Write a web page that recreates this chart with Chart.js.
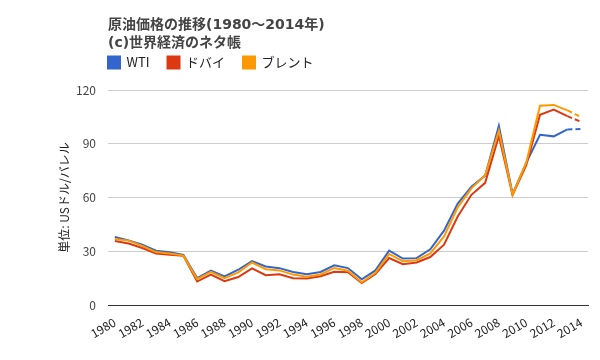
<!DOCTYPE html>
<html>
<head>
<meta charset="utf-8">
<script src="https://cdn.jsdelivr.net/npm/chart.js@4"></script>
<style>
  body { margin: 0; background: #fff; }
  #wrap { width: 600px; height: 360px; }
</style>
</head>
<body>
<div id="wrap"><canvas id="myChart" width="600" height="360"></canvas></div>
<script>
// 年 (1980-2014)
const years = ["1980","1981","1982","1983","1984","1985","1986","1987","1988","1989",
  "1990","1991","1992","1993","1994","1995","1996","1997","1998","1999",
  "2000","2001","2002","2003","2004","2005","2006","2007","2008","2009",
  "2010","2011","2012","2013","2014"];

// 米ドル/バレル
const wti = [37.96, 36.08, 33.65, 30.30, 29.39, 27.99, 15.04, 19.19, 15.97, 19.68,
  24.50, 21.54, 20.57, 18.45, 17.21, 18.42, 22.16, 20.61, 14.39, 19.31,
  30.37, 25.93, 26.16, 31.07, 41.49, 56.59, 66.02, 72.20, 100.06, 61.92,
  79.45, 95.04, 94.13, 97.99, 98.2];
const dubai = [35.69, 34.32, 31.80, 28.78, 28.06, 27.53, 13.10, 16.95, 13.27, 15.62,
  20.45, 16.63, 17.17, 14.93, 14.74, 16.10, 18.52, 18.23, 12.21, 17.25,
  26.20, 22.81, 23.74, 26.78, 33.64, 49.35, 61.50, 68.19, 94.34, 61.39,
  78.06, 106.18, 109.08, 105.43, 102.2];
const brent = [36.83, 35.93, 32.97, 29.55, 28.78, 27.56, 14.43, 18.44, 14.92, 18.23,
  23.73, 20.00, 19.32, 16.97, 15.82, 17.02, 20.67, 19.09, 12.72, 17.97,
  28.50, 24.44, 25.02, 28.83, 38.27, 54.52, 65.14, 72.39, 97.26, 61.67,
  79.50, 111.26, 111.67, 108.66, 104.9];

const yTicks = [0, 30, 60, 90, 120];

const FONT = '"Noto Sans CJK JP", "Noto Sans", sans-serif';
Chart.defaults.font.family = FONT;

// 最後の区間(見込み)は点線
const lastDash = {
  borderDash: (c) => c.p1DataIndex === years.length - 1 ? [5, 3] : undefined
};

function makeSet(label, data, color, order) {
  return {
    label: label,
    data: data,
    borderColor: color,
    backgroundColor: color,
    borderWidth: 2,
    pointRadius: 0,
    pointHoverRadius: 0,
    tension: 0,
    order: order,
    segment: lastDash
  };
}

// タイトル・凡例をグラフ領域の左端に揃える
const alignPlugin = {
  id: 'alignLeft',
  beforeInit(chart) {
    const fit = chart.legend.fit;
    chart.legend.fit = function () {
      fit.call(this);
      this.height = 38;
    };
  },
  beforeDraw(chart) {
    const left = chart.chartArea.left;
    chart.titleBlock.left = left;
    chart.legend.left = left - 18;
    chart.legend.top = 52 - 18 + 4;
  }
};

const ctx = document.getElementById("myChart");

new Chart(ctx, {
  type: "line",
  data: {
    labels: years,
    datasets: [
      makeSet("WTI", wti, "#3366cc", 3),
      makeSet("ドバイ", dubai, "#dc3912", 2),
      makeSet("ブレント", brent, "#ff9900", 1)
    ]
  },
  plugins: [alignPlugin],
  options: {
    responsive: false,
    animation: false,
    layout: { padding: { left: 0, right: 12, top: 0, bottom: 0 } },
    plugins: {
      title: {
        display: true,
        text: ["原油価格の推移(1980～2014年)", "(c)世界経済のネタ帳"],
        align: "start",
        color: "#444",
        font: { family: '"DejaVu Sans", "Noto Sans CJK JP", sans-serif', size: 14, weight: "bold", lineHeight: 1.25 },
        padding: { top: 17, bottom: 0 }
      },
      legend: {
        align: "start",
        labels: {
          boxWidth: 12,
          boxHeight: 12,
          padding: 18,
          color: "#222",
          font: { size: 13 },
          sort: (a, b) => a.datasetIndex - b.datasetIndex
        }
      },
      tooltip: { enabled: false }
    },
    scales: {
      x: {
        offset: true,
        grid: { display: false },
        border: { display: true, color: "#333", width: 1 },
        ticks: {
          autoSkip: false,
          minRotation: 30,
          maxRotation: 30,
          color: "#222",
          font: { size: 12 },
          padding: 2,
          callback: function (v, i) { return i % 2 === 0 ? years[i] : ""; }
        },
        afterFit: (s) => { s.height = 55; }
      },
      y: {
        min: 0,
        max: 120,
        afterBuildTicks: (s) => { s.ticks = yTicks.map(v => ({ value: v })); },
        grid: { color: "#cccccc", drawTicks: false },
        border: { display: false },
        ticks: { color: "#444", font: { size: 12 }, padding: 12 },
        title: {
          display: true,
          text: "単位: USドル/バレル",
          color: "#222",
          font: { size: 12 },
          padding: { top: 57, bottom: 0 }
        },
        afterFit: (s) => { s.width = 108; }
      }
    }
  }
});
</script>
</body>
</html>
